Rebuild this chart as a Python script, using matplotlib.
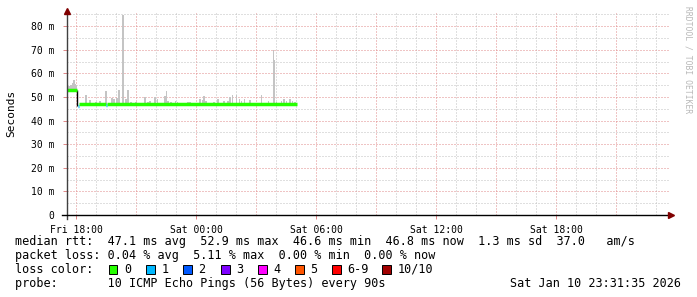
import matplotlib
matplotlib.use("Agg")
import matplotlib.pyplot as plt
from matplotlib.patches import Rectangle

W, H = 697, 297

# ---- data (hours relative to Fri 18:00, values in ms) ----
x_ticks = [0, 6, 12, 18, 24]
x_labels = ['Fri 18:00', 'Sat 00:00', 'Sat 06:00', 'Sat 12:00', 'Sat 18:00']
y_ticks = [0, 10, 20, 30, 40, 50, 60, 70, 80]
y_labels = ['0', '10 m', '20 m', '30 m', '40 m', '50 m', '60 m', '70 m', '80 m']

# median rtt segments, coloured by loss count
seg_start = [-0.45, 0.10, 0.15, 1.50, 1.56]
seg_end = [0.06, 0.15, 1.50, 1.56, 11.05]
seg_val = [52.9, 46.4, 46.9, 46.8, 46.9]
seg_loss = [0, 1, 0, 1, 0]

# smoke (max of pings) samples
smoke_early_t = [-0.45, -0.35, -0.25, -0.15, -0.10, -0.05, 0.00]
smoke_early_top = [55.5, 54.5, 55.0, 56.0, 57.0, 55.5, 54.5]

smoke_t = [0.50, 0.70, 1.00, 1.20, 1.50, 1.80, 1.90, 2.05, 2.15, 2.35, 2.50, 2.60,
           2.75, 3.00, 3.28, 3.45, 3.60, 3.70, 3.95, 4.08, 4.45, 4.53, 4.60, 4.75,
           4.98, 5.08, 5.60, 5.70, 6.20, 6.33, 6.40, 6.50, 6.90, 7.10, 7.40, 7.60,
           7.70, 7.83, 8.03, 8.17, 8.28, 8.42, 8.70, 9.28, 9.62, 9.88, 9.93, 10.03,
           10.28, 10.40, 10.53, 10.70, 10.83, 10.95]
smoke_top = [50.8, 48.7, 48.0, 48.2, 52.7, 49.5, 49.0, 49.5, 53.0, 84.9, 49.0, 53.0,
             48.0, 48.0, 47.5, 50.1, 47.9, 48.2, 50.1, 49.2, 50.4, 52.5, 48.3, 48.0,
             48.2, 48.0, 48.0, 48.0, 49.2, 48.8, 50.4, 48.5, 48.0, 49.0, 48.3, 48.5,
             50.0, 50.8, 51.0, 49.2, 48.5, 49.3, 48.7, 50.8, 48.2, 69.9, 65.7, 47.9,
             48.3, 49.0, 48.5, 49.0, 48.5, 47.9]

loss_labels = ['0', '1', '2', '3', '4', '5', '6-9', '10/10']
loss_colors = ['#26ff00', '#00b8ff', '#0059ff', '#7e00ff', '#ff00ff', '#ff5500', '#ff0000', '#a10000']

legend_rtt = "median rtt:  47.1 ms avg  52.9 ms max  46.6 ms min  46.8 ms now  1.3 ms sd  37.0   am/s"
legend_loss = "packet loss: 0.04 % avg  5.11 % max  0.00 % min  0.00 % now"
legend_probe = "probe:       10 ICMP Echo Pings (56 Bytes) every 90s"
stamp = "Sat Jan 10 23:31:35 2026"

# ---- figure ----
MONO = 'DejaVu Sans Mono'
fig = plt.figure(figsize=(W / 100, H / 100), dpi=100)
fig.patch.set_facecolor('white')


def fx(x):
    return x / W


def fy(y):
    return 1 - y / H


ax_l, ax_r, ax_t, ax_b = 67, 669, 13, 215
ax = fig.add_axes([fx(ax_l), fy(ax_b), (ax_r - ax_l) / W, (ax_b - ax_t) / H])
ax.set_xlim(-0.45, 29.65)
ax.set_ylim(0, 85.6)
for s in ax.spines.values():
    s.set_visible(False)

grid_c = '#c0c0c0'
mgrid_c = '#e08a8a'
dot = (0, (1, 2))
for h in range(0, 30):
    ax.axvline(h, color=mgrid_c if h % 3 == 0 else grid_c, lw=0.72, ls=dot, zorder=0)
for v in range(5, 86, 5):
    ax.axhline(v, color=mgrid_c if v % 10 == 0 else grid_c, lw=0.72, ls=dot, zorder=0)

ax.set_xticks(x_ticks)
ax.set_xticklabels(x_labels, fontfamily=MONO, fontsize=7)
ax.set_yticks(y_ticks)
ax.set_yticklabels(y_labels, fontfamily=MONO, fontsize=7)
ax.tick_params(axis='both', length=3, width=0.72, color=mgrid_c, pad=4)
ax.tick_params(axis='y', pad=6)

# smoke
ax.bar(smoke_early_t, [t - 52.5 for t in smoke_early_top], bottom=52.5, width=0.06,
       color='#c4c4c4', linewidth=0, zorder=2, align='center')
ax.bar(smoke_t, [t - 46.5 for t in smoke_top], bottom=46.5, width=0.06,
       color='#c4c4c4', linewidth=0, zorder=2, align='center')

# median line
ax.vlines(seg_end[0], seg_val[1], seg_val[0], color='black', lw=1.0, zorder=3)
for a, b, v, l in zip(seg_start, seg_end, seg_val, seg_loss):
    ax.plot([a, b], [v, v], color=loss_colors[l], lw=2.5, solid_capstyle='butt', zorder=4)

# axes lines with arrows
ax.plot([0, 0], [-0.02, 1.0], transform=ax.transAxes, color='#404040', lw=1, clip_on=False, zorder=5)
ax.plot([-0.008, 1.0], [0, 0], transform=ax.transAxes, color='black', lw=1, clip_on=False, zorder=5)
ax.plot([0], [1.01], transform=ax.transAxes, marker='^', ms=4.5, color='#800000', clip_on=False, zorder=6)
ax.plot([1.004], [0], transform=ax.transAxes, marker='>', ms=4.5, color='#800000', clip_on=False, zorder=6)

# y label
fig.text(fx(11), fy(113), 'Seconds', rotation=90, ha='center', va='center',
         fontfamily=MONO, fontsize=8)
# watermark
fig.text(fx(688), fy(60), 'RRDTOOL / TOBI OETIKER', rotation=270, ha='center', va='center',
         fontfamily=MONO, fontsize=5.8, color='#b8b8b8')

# legend
fs = 8.5
fig.text(fx(15), fy(245), legend_rtt, fontfamily=MONO, fontsize=fs, va='baseline')
fig.text(fx(15), fy(259), legend_loss, fontfamily=MONO, fontsize=fs, va='baseline')
fig.text(fx(15), fy(273), 'loss color:', fontfamily=MONO, fontsize=fs, va='baseline')
box_x = [108.5, 146, 183, 221, 258, 295, 332, 382]
for bx, lab, col in zip(box_x, loss_labels, loss_colors):
    fig.patches.append(Rectangle((fx(bx), fy(273.5)), 8.5 / W, 9 / H, transform=fig.transFigure,
                                 facecolor=col, edgecolor='black', lw=0.7))
    fig.text(fx(bx + 15.5), fy(273), lab, fontfamily=MONO, fontsize=fs, va='baseline')
fig.text(fx(15), fy(287), legend_probe, fontfamily=MONO, fontsize=fs, va='baseline')
fig.text(fx(681), fy(287), stamp, fontfamily=MONO, fontsize=fs, va='baseline', ha='right')

fig.savefig('out.png', dpi=100, facecolor='white')
